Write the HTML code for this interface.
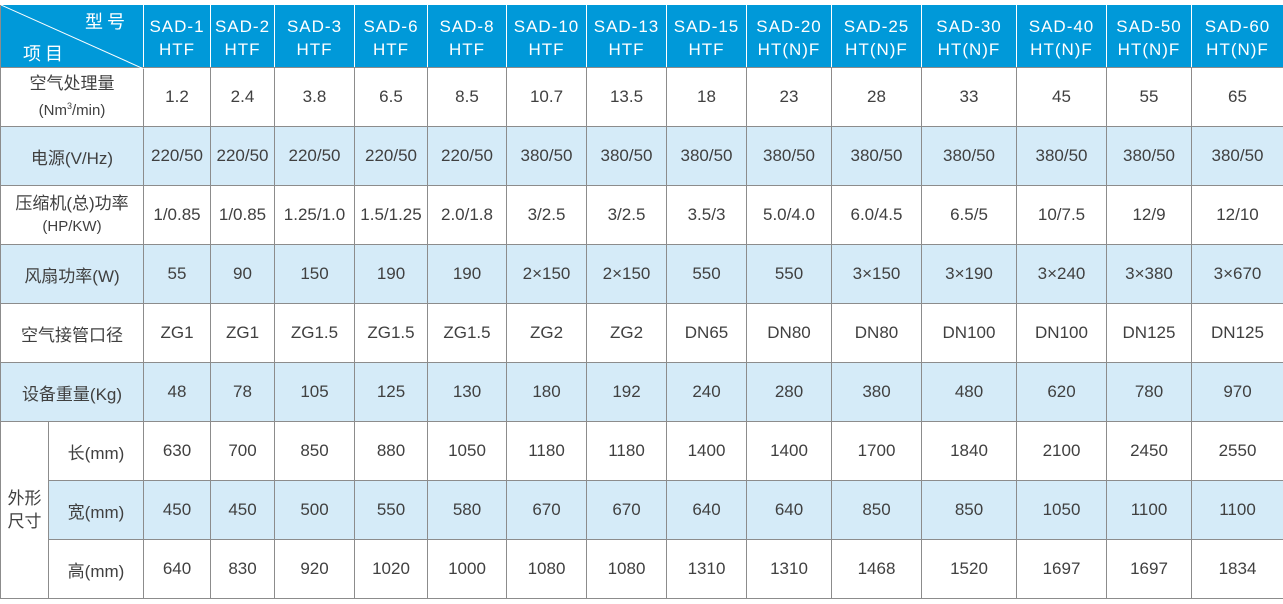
<!DOCTYPE html>
<html><head><meta charset="utf-8"><style>
body{margin:0;background:#fff;width:1283px;height:604px;overflow:hidden}
table{position:absolute;left:0;top:4px;border-collapse:collapse;table-layout:fixed;width:1283px;
font-family:"Liberation Sans","Noto Sans CJK SC",sans-serif;font-size:17px;color:#404040}
td{border:1px solid #8c8c8c;text-align:center;vertical-align:middle;padding:0;height:58px;white-space:nowrap}
tr.h td{background:#0099d9;color:#fff;height:63px;border-color:#fff #fff #8c8c8c #fff;font-size:17px;letter-spacing:1px;line-height:23px;padding-top:4px;box-sizing:border-box}
tr.h td:first-child{border-left-color:#8c8c8c}
tr.h td:last-child{border-right-color:#8c8c8c}
tr.h{border-top:1px solid #8c8c8c}
tr.b td{background:#d5ebf8}
.l{line-height:22px}
.s{font-size:15px}
</style></head><body>
<table>
<colgroup><col style="width:48px"><col style="width:95px"><col style="width:67px"><col style="width:64px"><col style="width:80px"><col style="width:73px"><col style="width:79px"><col style="width:80px"><col style="width:80px"><col style="width:80px"><col style="width:85px"><col style="width:90px"><col style="width:95px"><col style="width:90px"><col style="width:85px"><col style="width:92px"></colgroup>
<tr class="h"><td colspan="2" style="position:relative;text-align:left;padding:0">
<svg width="143" height="64" style="position:absolute;left:0;top:0"><line x1="0" y1="0" x2="143" y2="64" stroke="#fff" stroke-width="1"/></svg>
<span style="position:absolute;left:84px;top:6px;letter-spacing:4px;font-size:18px">型号</span>
<span style="position:absolute;left:22px;top:38px;letter-spacing:4px;font-size:18px">项目</span></td>
<td>SAD-1<br>HTF</td><td>SAD-2<br>HTF</td><td>SAD-3<br>HTF</td><td>SAD-6<br>HTF</td><td>SAD-8<br>HTF</td><td>SAD-10<br>HTF</td><td>SAD-13<br>HTF</td><td>SAD-15<br>HTF</td><td>SAD-20<br>HT(N)F</td><td>SAD-25<br>HT(N)F</td><td>SAD-30<br>HT(N)F</td><td>SAD-40<br>HT(N)F</td><td>SAD-50<br>HT(N)F</td><td>SAD-60<br>HT(N)F</td></tr>
<tr><td colspan="2" class="l">空气处理量<br><span class="s">(Nm<sup style="font-size:9px">3</sup>/min)</span></td><td>1.2</td><td>2.4</td><td>3.8</td><td>6.5</td><td>8.5</td><td>10.7</td><td>13.5</td><td>18</td><td>23</td><td>28</td><td>33</td><td>45</td><td>55</td><td>65</td></tr>
<tr class="b"><td colspan="2">电源(V/Hz)</td><td>220/50</td><td>220/50</td><td>220/50</td><td>220/50</td><td>220/50</td><td>380/50</td><td>380/50</td><td>380/50</td><td>380/50</td><td>380/50</td><td>380/50</td><td>380/50</td><td>380/50</td><td>380/50</td></tr>
<tr><td colspan="2" class="l">压缩机(总)功率<br><span class="s">(HP/KW)</span></td><td>1/0.85</td><td>1/0.85</td><td>1.25/1.0</td><td>1.5/1.25</td><td>2.0/1.8</td><td>3/2.5</td><td>3/2.5</td><td>3.5/3</td><td>5.0/4.0</td><td>6.0/4.5</td><td>6.5/5</td><td>10/7.5</td><td>12/9</td><td>12/10</td></tr>
<tr class="b"><td colspan="2">风扇功率(W)</td><td>55</td><td>90</td><td>150</td><td>190</td><td>190</td><td>2×150</td><td>2×150</td><td>550</td><td>550</td><td>3×150</td><td>3×190</td><td>3×240</td><td>3×380</td><td>3×670</td></tr>
<tr><td colspan="2">空气接管口径</td><td>ZG1</td><td>ZG1</td><td>ZG1.5</td><td>ZG1.5</td><td>ZG1.5</td><td>ZG2</td><td>ZG2</td><td>DN65</td><td>DN80</td><td>DN80</td><td>DN100</td><td>DN100</td><td>DN125</td><td>DN125</td></tr>
<tr class="b"><td colspan="2">设备重量(Kg)</td><td>48</td><td>78</td><td>105</td><td>125</td><td>130</td><td>180</td><td>192</td><td>240</td><td>280</td><td>380</td><td>480</td><td>620</td><td>780</td><td>970</td></tr>
<tr><td rowspan="3" style="background:#fff;line-height:23px">外形<br>尺寸</td><td>长(mm)</td><td>630</td><td>700</td><td>850</td><td>880</td><td>1050</td><td>1180</td><td>1180</td><td>1400</td><td>1400</td><td>1700</td><td>1840</td><td>2100</td><td>2450</td><td>2550</td></tr>
<tr class="b"><td>宽(mm)</td><td>450</td><td>450</td><td>500</td><td>550</td><td>580</td><td>670</td><td>670</td><td>640</td><td>640</td><td>850</td><td>850</td><td>1050</td><td>1100</td><td>1100</td></tr>
<tr><td>高(mm)</td><td>640</td><td>830</td><td>920</td><td>1020</td><td>1000</td><td>1080</td><td>1080</td><td>1310</td><td>1310</td><td>1468</td><td>1520</td><td>1697</td><td>1697</td><td>1834</td></tr>
</table>
</body></html>
